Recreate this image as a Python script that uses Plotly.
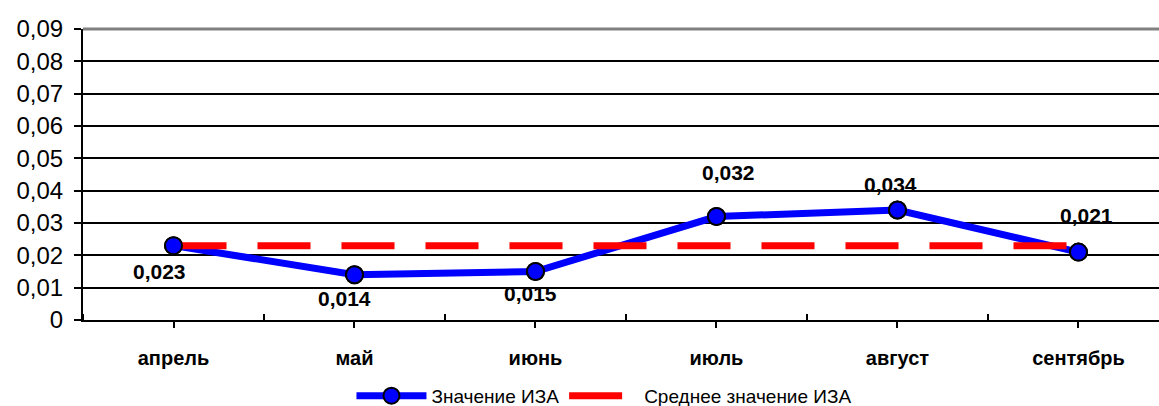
import plotly.graph_objects as go

categories = ["апрель", "май", "июнь", "июль", "август", "сентябрь"]
iza_values = [0.023, 0.014, 0.015, 0.032, 0.034, 0.021]
mean_values = [0.023, 0.023, 0.023, 0.023, 0.023, 0.023]
value_labels = ["0,023", "0,014", "0,015", "0,032", "0,034", "0,021"]
y_ticks = [0, 0.01, 0.02, 0.03, 0.04, 0.05, 0.06, 0.07, 0.08, 0.09]
y_tick_labels = ["0", "0,01", "0,02", "0,03", "0,04", "0,05", "0,06", "0,07", "0,08", "0,09"]

# label offsets in px (style)
label_dx = [-14, -10, -5, 12, -7, 8]
label_dy = [-26, -24, -22, 44, 26, 37]

x_idx = list(range(len(categories)))
FONT = "Liberation Sans, Arial, sans-serif"

fig = go.Figure()
fig.add_trace(go.Scatter(
    x=x_idx, y=iza_values, mode="lines+markers", name="Значение ИЗА",
    line=dict(color="#0000ff", width=7),
    marker=dict(size=17, color="#0000ff", line=dict(color="black", width=2)),
))
fig.add_trace(go.Scatter(
    x=x_idx, y=mean_values, mode="lines", name="Среднее значение ИЗА",
    line=dict(color="#ff0000", width=7, dash="53px,31px"),
))
fig.add_trace(go.Scatter(
    x=x_idx, y=iza_values, mode="markers", showlegend=False, hoverinfo="skip",
    marker=dict(size=17, color="#0000ff", line=dict(color="black", width=2)),
))

for xi, v, t, dx, dy in zip(x_idx, iza_values, value_labels, label_dx, label_dy):
    fig.add_annotation(x=xi, y=v, text="<b>" + t + "</b>", showarrow=False,
                       xshift=dx, yshift=dy,
                       font=dict(family=FONT, size=21, color="black"))

fig.add_shape(type="line", xref="paper", yref="paper", x0=0, x1=1, y0=1, y1=1,
              line=dict(color="#808080", width=3))

fig.update_layout(
    width=1159, height=406,
    margin=dict(l=83, r=0, t=29, b=86),
    paper_bgcolor="white", plot_bgcolor="white",
    font=dict(family=FONT, color="black"),
    showlegend=True,
    legend=dict(orientation="h", x=0.2495, xanchor="left",
                yref="container", y=0.025, yanchor="middle",
                font=dict(family=FONT, size=19, color="black"), itemwidth=70,
                bgcolor="rgba(0,0,0,0)"),
    xaxis=dict(
        range=[-0.5, 5.445], tickmode="array", tickvals=x_idx,
        ticktext=["<b>" + c + "</b>" for c in categories],
        tickfont=dict(family=FONT, size=20, color="black"),
        showgrid=False, zeroline=False, showline=True, linecolor="black", linewidth=2,
        ticks="outside", ticklen=6, tickwidth=2, tickcolor="black",
        ticklabelstandoff=13,
        minor=dict(tickmode="linear", tick0=0.5, dtick=1, ticks="inside", ticklen=6,
                   tickwidth=2, tickcolor="black", showgrid=False),
    ),
    yaxis=dict(
        range=[0, 0.09], tickmode="array", tickvals=y_ticks, ticktext=y_tick_labels,
        tickfont=dict(family=FONT, size=24, color="black"),
        showgrid=True, gridcolor="black", gridwidth=2,
        zeroline=False, showline=True, linecolor="black", linewidth=2,
        ticks="outside", ticklen=7, tickwidth=2, tickcolor="black",
        ticklabelstandoff=6,
    ),
)

fig.write_html("out.html")
